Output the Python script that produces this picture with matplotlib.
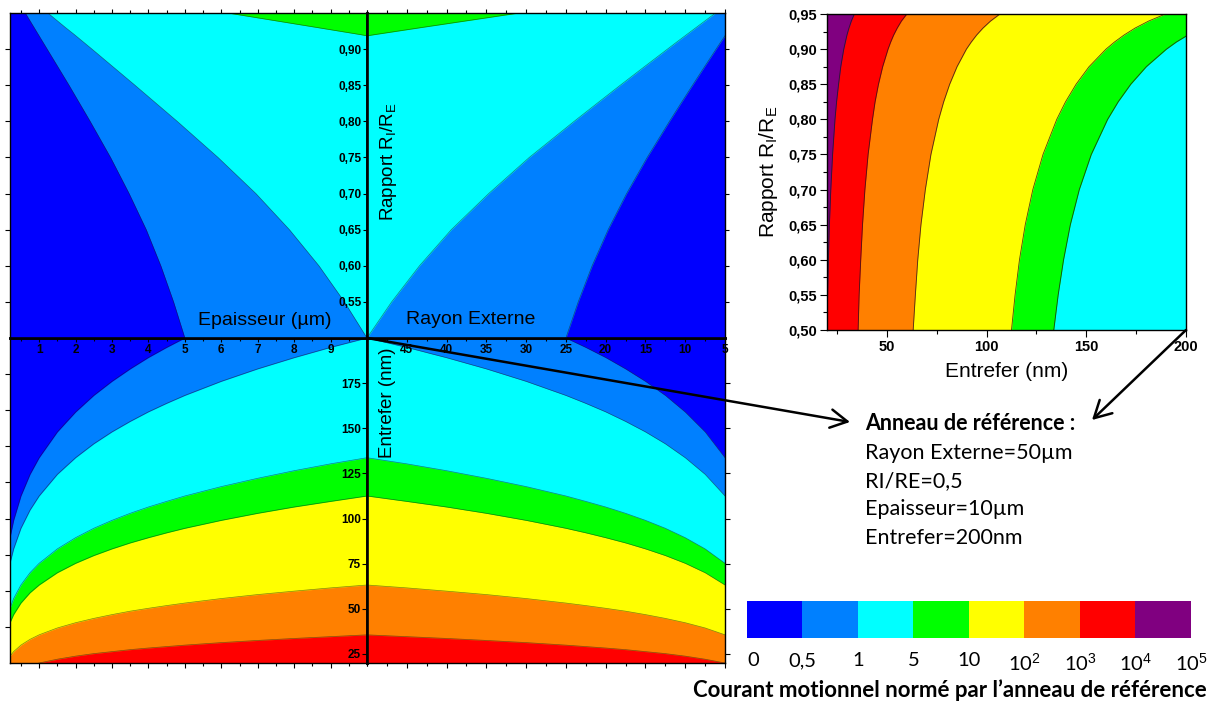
import numpy as np
import matplotlib
matplotlib.use("Agg")
import matplotlib.pyplot as plt
from matplotlib.patches import ConnectionPatch
from matplotlib.colors import ListedColormap
from matplotlib.ticker import MultipleLocator

plt.rcParams["font.family"] = ["Liberation Sans", "DejaVu Sans"]
plt.rcParams["mathtext.fontset"] = "custom"
plt.rcParams["mathtext.rm"] = "Liberation Sans"
plt.rcParams["mathtext.it"] = "Liberation Sans:italic"
plt.rcParams["mathtext.bf"] = "Liberation Sans:bold"

# ---------------- data ----------------
# level colours: <0.5, 0.5-1, 1-5, 5-10, 10-1e2, 1e2-1e3, 1e3-1e4, >1e4
COLORS = ["#0000FF", "#0080FF", "#00FFFF", "#00FF00", "#FFFF00", "#FF8000", "#FF0000", "#800080"]
CB_LABELS = ["0", "0,5", "1", "5", "10", "10$^2$", "10$^3$", "10$^4$", "10$^5$"]

# RI/RE samples (top quadrants and inset)
RATIO = [0.50, 0.55, 0.60, 0.65, 0.70, 0.75, 0.80, 0.825, 0.85, 0.875, 0.90, 0.91, 0.92, 0.93, 0.94, 0.95]
# top-left: epaisseur (um) where the 0.5 and 1 levels are reached
TL_B05 = [5.00, 4.69, 4.34, 3.94, 3.47, 2.96, 2.40, 2.11, 1.82, 1.52, 1.22, 1.10, 0.98, 0.86, 0.74, 0.62]
TL_B1 = [10.0, 9.38, 8.68, 7.87, 6.95, 5.91, 4.79, 4.21, 3.63, 3.04, 2.45, 2.21, 1.97, 1.72, 1.48, 1.24]
# top-right: rayon externe (um) where the 0.5 and 1 levels are reached
TR_B05 = [25.0, 23.45, 21.70, 19.69, 17.37, 14.78, 11.98, 10.54, 9.08, 7.61, 6.12, 5.52, 4.91, 4.31, 3.70, 3.09]
TR_B1 = [50.0, 46.9, 43.4, 39.4, 34.7, 29.6, 23.96, 21.07, 18.16, 15.21, 12.23, 11.04, 9.83, 8.62, 7.40, 6.18]
# level 5 near the top
RATIO_G = [0.9184, 0.92, 0.93, 0.94, 0.95]
TL_B5 = [10.0, 9.83, 8.62, 7.40, 6.18]
TR_B5 = [50.0, 49.1, 43.1, 37.0, 30.9]

# bottom-left: entrefer (nm) of each level versus epaisseur (um)
EPAIS = [0.2, 0.3, 0.5, 0.75, 1, 1.5, 2, 2.5, 3, 3.5, 4, 4.5, 5, 6, 7, 8, 9, 10]
BL_B05 = [89.4, 99.0, 112.5, 124.5, 133.7, 148.0, 159.0, 168.2, 176.0, 182.9, 189.2, 194.8, 200.0, 209.3, 217.6, 224.9, 231.7, 237.8]
BL_B1 = [75.2, 83.2, 94.6, 104.7, 112.5, 124.5, 133.7, 141.4, 148.0, 153.8, 159.1, 163.8, 168.2, 176.0, 182.9, 189.1, 194.8, 200.0]
BL_B5 = [50.3, 55.7, 63.2, 70.0, 75.2, 83.2, 89.4, 94.6, 99.0, 102.9, 106.4, 109.5, 112.5, 117.7, 122.3, 126.5, 130.3, 133.7]
BL_B10 = [42.3, 46.8, 53.2, 58.9, 63.2, 70.0, 75.2, 79.5, 83.2, 86.5, 89.4, 92.1, 94.6, 99.0, 102.9, 106.4, 109.5, 112.5]
BL_B100 = [23.8, 26.3, 29.9, 33.1, 35.6, 39.4, 42.3, 44.7, 46.8, 48.7, 50.3, 51.8, 53.2, 55.7, 57.9, 59.8, 61.6, 63.2]
BL_B1000 = [13.4, 14.8, 16.8, 18.6, 20.0, 22.1, 23.8, 25.2, 26.3, 27.4, 28.3, 29.1, 29.9, 31.3, 32.5, 33.6, 34.6, 35.6]

# bottom-right: entrefer (nm) of each level versus rayon externe (um)
RAYON = [50, 45, 40, 35, 30, 25, 22.5, 20, 17.5, 15, 12.5, 10, 7.5, 5]
BR_B05 = [237.8, 231.7, 224.9, 217.6, 209.3, 200.0, 194.8, 189.2, 182.9, 176.0, 168.2, 159.0, 148.0, 133.7]
BR_B1 = [200.0, 194.8, 189.1, 182.9, 176.0, 168.2, 163.8, 159.1, 153.8, 148.0, 141.4, 133.7, 124.5, 112.5]
BR_B5 = [133.7, 130.3, 126.5, 122.3, 117.7, 112.5, 109.5, 106.4, 102.9, 99.0, 94.6, 89.4, 83.2, 75.2]
BR_B10 = [112.5, 109.5, 106.4, 102.9, 99.0, 94.6, 92.1, 89.4, 86.5, 83.2, 79.5, 75.2, 70.0, 63.2]
BR_B100 = [63.2, 61.6, 59.8, 57.9, 55.7, 53.2, 51.8, 50.3, 48.7, 46.8, 44.7, 42.3, 39.4, 35.6]
BR_B1000 = [35.6, 34.6, 33.6, 32.5, 31.3, 29.9, 29.1, 28.3, 27.4, 26.3, 25.2, 23.8, 22.1, 20.0]

# inset: entrefer (nm) of each level versus RI/RE
IN_B5 = [133.7, 135.9, 138.6, 142.0, 146.5, 152.5, 160.7, 166.0, 172.3, 180.1, 190.2, 195.1, 200.9, 207.6, 215.6, 225.5]
IN_B10 = [112.5, 114.3, 116.5, 119.4, 123.2, 128.3, 135.2, 139.6, 144.9, 151.4, 159.9, 164.1, 168.9, 174.5, 181.3, 189.7]
IN_B100 = [63.2, 64.3, 65.5, 67.1, 69.3, 72.1, 76.0, 78.5, 81.5, 85.2, 89.9, 92.3, 95.0, 98.2, 102.0, 106.7]
IN_B1000 = [35.6, 36.1, 36.9, 37.8, 39.0, 40.6, 42.8, 44.1, 45.8, 47.9, 50.6, 51.9, 53.4, 55.2, 57.3, 60.0]
IN_B1E4 = [20.0, 20.3, 20.7, 21.2, 21.9, 22.8, 24.0, 24.8, 25.8, 26.9, 28.4, 29.2, 30.0, 31.0, 32.2, 33.7]

# axis ranges and ticks
EPAIS_LIM = (0.2, 10.0)
RAYON_LIM = (50.0, 5.0)
RATIO_LIM = (0.5, 0.95)
GAP_LIM = (20.0, 200.0)
EPAIS_TICKS = [1, 2, 3, 4, 5, 6, 7, 8, 9]
RAYON_TICKS = [45, 40, 35, 30, 25, 20, 15, 10, 5]
RATIO_TICKS = [0.55, 0.60, 0.65, 0.70, 0.75, 0.80, 0.85, 0.90]
GAP_TICKS = [25, 50, 75, 100, 125, 150, 175]
GAP_EDGE_TICKS = [40, 60, 80, 100, 120, 140, 160, 180]
IN_X_TICKS = [50, 100, 150, 200]
IN_Y_TICKS = [0.50, 0.55, 0.60, 0.65, 0.70, 0.75, 0.80, 0.85, 0.90, 0.95]

EDGE = (0.1, 0.1, 0.1, 0.55)
W, H = 1215, 702


def px_box(l, t, r, b):
    return [l / W, 1 - b / H, (r - l) / W, (b - t) / H]


def fmt(v):
    return f"{v:.2f}".replace(".", ",")


fig = plt.figure(figsize=(W / 100, H / 100), dpi=100)

ax_bl = fig.add_axes(px_box(10, 338, 367, 663))
ax_br = fig.add_axes(px_box(367, 338, 725, 663))
ax_tl = fig.add_axes(px_box(10, 13, 367, 338))
ax_tr = fig.add_axes(px_box(367, 13, 725, 338))
ax_in = fig.add_axes(px_box(827, 14, 1186, 330))
ax_cb = fig.add_axes(px_box(747, 601, 1191, 638))

TICK = dict(fontsize=8.5, fontweight="bold")

# ---- bottom-left ----
ax = ax_bl
ax.set_facecolor(COLORS[0])
for b, c in zip([BL_B05, BL_B1, BL_B5, BL_B10, BL_B100, BL_B1000], COLORS[1:7]):
    ax.fill_between(EPAIS, GAP_LIM[0], b, color=c, lw=0)
    ax.plot(EPAIS, b, color=EDGE, lw=0.5)
ax.set_xlim(*EPAIS_LIM)
ax.set_ylim(*GAP_LIM)
ax.set_xticks(EPAIS_TICKS)
ax.xaxis.set_minor_locator(MultipleLocator(0.5))
ax.set_yticks(GAP_EDGE_TICKS)
ax.tick_params(axis="both", which="both", direction="out", labelbottom=False, labelleft=False,
               top=False, right=False, length=3.5, width=0.8)
ax.tick_params(which="minor", length=2)

# ---- bottom-right ----
ax = ax_br
ax.set_facecolor(COLORS[0])
for b, c in zip([BR_B05, BR_B1, BR_B5, BR_B10, BR_B100, BR_B1000], COLORS[1:7]):
    ax.fill_between(RAYON, GAP_LIM[0], b, color=c, lw=0)
    ax.plot(RAYON, b, color=EDGE, lw=0.5)
ax.set_xlim(*RAYON_LIM)
ax.set_ylim(*GAP_LIM)
ax.set_xticks(RAYON_TICKS)
ax.xaxis.set_minor_locator(MultipleLocator(2.5))
ax.set_yticks(GAP_TICKS, [str(v) for v in GAP_TICKS], **TICK)
ax.tick_params(axis="both", which="both", direction="out", labelbottom=False, labelleft=True,
               top=False, right=True, left=True, length=3.5, width=0.8, pad=1)
ax.tick_params(which="minor", length=2)

# ---- top-left ----
ax = ax_tl
ax.set_facecolor(COLORS[0])
ax.fill_betweenx(RATIO, TL_B05, EPAIS_LIM[1], color=COLORS[1], lw=0)
ax.fill_betweenx(RATIO, TL_B1, EPAIS_LIM[1], color=COLORS[2], lw=0)
ax.fill_between(TL_B5, RATIO_G, RATIO_LIM[1], color=COLORS[3], lw=0)
ax.plot(TL_B05, RATIO, color=EDGE, lw=0.5)
ax.plot(TL_B1, RATIO, color=EDGE, lw=0.5)
ax.plot(TL_B5, RATIO_G, color=EDGE, lw=0.5)
ax.set_xlim(*EPAIS_LIM)
ax.set_ylim(*RATIO_LIM)
ax.set_xticks(EPAIS_TICKS, [str(v) for v in EPAIS_TICKS], **TICK)
ax.xaxis.set_minor_locator(MultipleLocator(0.5))
ax.set_yticks(RATIO_TICKS)
ax.tick_params(axis="x", which="both", direction="out", top=True, bottom=True,
               labelbottom=True, length=3, width=0.8, pad=1)
ax.tick_params(axis="y", direction="out", left=True, right=False, labelleft=False,
               length=3.5, width=0.8)
ax.tick_params(which="minor", length=2)

# ---- top-right ----
ax = ax_tr
ax.set_facecolor(COLORS[0])
ax.fill_betweenx(RATIO, TR_B05, RAYON_LIM[0], color=COLORS[1], lw=0)
ax.fill_betweenx(RATIO, TR_B1, RAYON_LIM[0], color=COLORS[2], lw=0)
ax.fill_between(TR_B5, RATIO_G, RATIO_LIM[1], color=COLORS[3], lw=0)
ax.plot(TR_B05, RATIO, color=EDGE, lw=0.5)
ax.plot(TR_B1, RATIO, color=EDGE, lw=0.5)
ax.plot(TR_B5, RATIO_G, color=EDGE, lw=0.5)
ax.set_xlim(*RAYON_LIM)
ax.set_ylim(*RATIO_LIM)
ax.set_xticks(RAYON_TICKS, [str(v) for v in RAYON_TICKS], **TICK)
ax.xaxis.set_minor_locator(MultipleLocator(2.5))
ax.set_yticks(RATIO_TICKS, [fmt(v) for v in RATIO_TICKS], **TICK)
ax.tick_params(axis="x", which="both", direction="out", top=True, bottom=True,
               labelbottom=True, length=3, width=0.8, pad=1)
ax.tick_params(axis="y", direction="out", left=True, right=True, labelleft=True,
               length=3, width=0.8, pad=1)
ax.tick_params(which="minor", length=2)

# spines of main chart
for a in (ax_bl, ax_br, ax_tl, ax_tr):
    for s in a.spines.values():
        s.set_linewidth(1.0)
for a, sides in ((ax_tl, ("right", "bottom")), (ax_tr, ("left", "bottom")),
                 (ax_bl, ("right", "top")), (ax_br, ("left", "top"))):
    for s in sides:
        a.spines[s].set_linewidth(1.9)

# axis titles of the main chart
fig.text(265 / W, 1 - 321 / H, "Epaisseur (µm)", fontsize=14, ha="center", va="center")
fig.text(471 / W, 1 - 320 / H, "Rayon Externe", fontsize=14, ha="center", va="center")
fig.text(389 / W, 1 - 162 / H, r"Rapport R$_\mathrm{I}$/R$_\mathrm{E}$", fontsize=13.5,
         rotation=90, ha="center", va="center")
fig.text(387 / W, 1 - 403 / H, "Entrefer (nm)", fontsize=13.5, rotation=90, ha="center", va="center")

# ---- inset ----
ax = ax_in
ax.set_facecolor(COLORS[2])
for b, c in zip([IN_B5, IN_B10, IN_B100, IN_B1000, IN_B1E4], COLORS[3:8]):
    ax.fill_betweenx(RATIO, GAP_LIM[0], b, color=c, lw=0)
    ax.plot(b, RATIO, color=(0.1, 0.1, 0.1, 0.8), lw=0.6)
ax.set_xlim(*GAP_LIM)
ax.set_ylim(*RATIO_LIM)
ax.set_xticks(IN_X_TICKS, [str(v) for v in IN_X_TICKS], fontsize=10.5, fontweight="bold")
ax.set_yticks(IN_Y_TICKS, [fmt(v) for v in IN_Y_TICKS], fontsize=10.5, fontweight="bold")
ax.xaxis.set_minor_locator(MultipleLocator(25))
ax.yaxis.set_minor_locator(MultipleLocator(0.025))
ax.tick_params(which="both", direction="out", top=False, right=False, width=0.8, pad=2)
ax.tick_params(which="major", length=5)
ax.tick_params(which="minor", length=3)
ax.set_xlabel("Entrefer (nm)", fontsize=15, labelpad=6)
ax.set_ylabel(r"Rapport R$_\mathrm{I}$/R$_\mathrm{E}$", fontsize=15, labelpad=6)
for s in ax.spines.values():
    s.set_linewidth(1.0)

# ---- colour scale ----
ax = ax_cb
ax.imshow([list(range(len(COLORS)))], cmap=ListedColormap(COLORS), aspect="auto",
          extent=(0, len(COLORS), 0, 1), interpolation="nearest")
ax.set_xticks(range(len(CB_LABELS)), CB_LABELS, fontsize=14.5, family="Lato")
ax.set_yticks([])
ax.tick_params(axis="x", length=0, pad=10)
ax.get_xticklabels()[0].set_horizontalalignment("left")
for s in ax.spines.values():
    s.set_visible(False)

fig.text(1207 / W, 1 - 690 / H, "Courant motionnel normé par l’anneau de référence",
         fontsize=16, fontweight="bold", family="Lato", ha="right", va="center")

# ---- reference ring text ----
REF_LINES = ["Rayon Externe=50µm", "RI/RE=0,5", "Epaisseur=10µm", "Entrefer=200nm"]
fig.text(865 / W, 1 - 423 / H, "Anneau de référence :", fontsize=15.5, fontweight="bold",
         family="Lato", ha="left", va="center")
for i, line in enumerate(REF_LINES):
    fig.text(865 / W, 1 - (453 + 28.2 * i) / H, line, fontsize=15.5, family="Lato",
             ha="left", va="center")

# ---- arrows ----
arrow_style = "->,head_length=0.55,head_width=0.3"
a1 = ConnectionPatch(xyA=(RAYON_LIM[0], RATIO_LIM[0]), coordsA=ax_tr.transData,
                     xyB=(850 / W, 1 - 422 / H), coordsB=fig.transFigure,
                     arrowstyle=arrow_style, mutation_scale=22, lw=1.8, color="black")
fig.add_artist(a1)
a2 = ConnectionPatch(xyA=(GAP_LIM[1], RATIO_LIM[0]), coordsA=ax_in.transData,
                     xyB=(1092 / W, 1 - 420 / H), coordsB=fig.transFigure,
                     arrowstyle=arrow_style, mutation_scale=22, lw=1.8, color="black")
fig.add_artist(a2)

fig.savefig("out.png", dpi=100)
